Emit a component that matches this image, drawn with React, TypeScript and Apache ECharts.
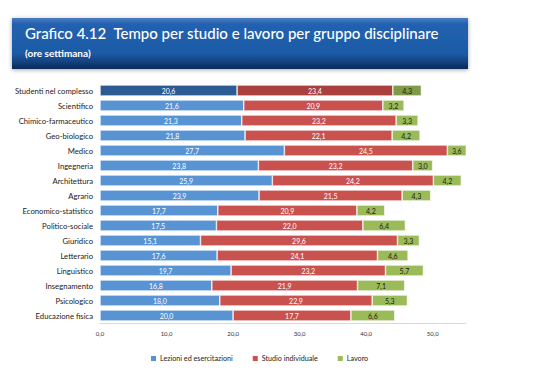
import React, { useEffect, useRef } from "react";
import * as echarts from "echarts";

const categories = [
  "Studenti nel complesso",
  "Scientifico",
  "Chimico-farmaceutico",
  "Geo-biologico",
  "Medico",
  "Ingegneria",
  "Architettura",
  "Agrario",
  "Economico-statistico",
  "Politico-sociale",
  "Giuridico",
  "Letterario",
  "Linguistico",
  "Insegnamento",
  "Psicologico",
  "Educazione fisica",
];
const lezioni = [20.6, 21.6, 21.3, 21.8, 27.7, 23.8, 25.9, 23.9, 17.7, 17.5, 15.1, 17.6, 19.7, 16.8, 18.0, 20.0];
const studio = [23.4, 20.9, 23.2, 22.1, 24.5, 23.2, 24.2, 21.5, 20.9, 22.0, 29.6, 24.1, 23.2, 21.9, 22.9, 17.7];
const lavoro = [4.3, 3.2, 3.3, 4.2, 3.6, 3.0, 4.2, 4.3, 4.2, 6.4, 3.3, 4.6, 5.7, 7.1, 5.3, 6.6];
const seriesNames = ["Lezioni ed esercitazioni", "Studio individuale", "Lavoro"];

const FONT = "Lato";
const colors = ["#5893d4", "#c9524f", "#9bbb59"];
const darkColors = ["#2c5b94", "#a9403d", "#7f9b4a"];
const labelColors = ["#ffffff", "#ffffff", "#1a1a1a"];

const fmt = (v: number) => v.toFixed(1).replace(".", ",");

export default function App() {
  const ref = useRef<HTMLDivElement>(null);
  useEffect(() => {
    const chart = echarts.init(ref.current!, null, { renderer: "svg" });
    const all = [lezioni, studio, lavoro];
    chart.setOption({
      animation: false,
      backgroundColor: "#ffffff",
      graphic: [
        {
          type: "rect",
          shape: { x: 12, y: 18, width: 456, height: 51 },
          style: {
            fill: new echarts.graphic.LinearGradient(0, 0, 0, 1, [
              { offset: 0, color: "#4a7cc0" },
              { offset: 0.12, color: "#2262b0" },
              { offset: 0.7, color: "#1d5aa6" },
              { offset: 1, color: "#0a2b5a" },
            ]),
            shadowBlur: 4,
            shadowColor: "rgba(0,0,0,0.35)",
            shadowOffsetY: 1,
          },
        },
        {
          type: "text",
          x: 25,
          y: 25,
          style: {
            text: "Grafico 4.12  Tempo per studio e lavoro per gruppo disciplinare",
            fill: "#ffffff",
            font: `500 15px ${FONT}`,
          },
        },
        {
          type: "text",
          x: 25,
          y: 48,
          style: {
            text: "(ore settimana)",
            fill: "#ffffff",
            font: `bold 10px ${FONT}`,
          },
        },
      ],
      legend: {
        top: 350,
        left: 146,
        data: seriesNames.map((n, i) => ({
          name: n,
          itemStyle: { color: colors[i], borderWidth: 0 },
        })),
        icon: "rect",
        itemWidth: 5,
        itemHeight: 5,
        itemGap: 20,
        textStyle: { fontFamily: FONT, fontSize: 7.2, color: "#222", padding: [0, 0, 0, -1] },
      },
      grid: { left: 100, right: 67, top: 83, bottom: 55, containLabel: false },
      xAxis: {
        type: "value",
        min: 0,
        max: 55,
        interval: 10,
        axisLine: { show: true, lineStyle: { color: "#d9d9d9" } },
        axisTick: { show: false },
        splitLine: { show: false },
        axisLabel: {
          showMaxLabel: false,
          formatter: (v: number) => (v > 50 ? "" : fmt(v)),
          fontFamily: FONT,
          fontSize: 6,
          color: "#333",
          margin: 7,
        },
      },
      yAxis: {
        type: "category",
        inverse: true,
        data: categories,
        axisLine: { show: false },
        axisTick: { show: false },
        axisLabel: { fontFamily: FONT, fontSize: 7.7, color: "#1a1a1a", margin: 7 },
      },
      series: seriesNames.map((name, si) => ({
        name,
        type: "bar",
        stack: "tot",
        barWidth: 11,
        itemStyle: { color: colors[si], borderColor: "#ffffff", borderWidth: 0.6 },
        label: {
          show: true,
          position: "inside",
          formatter: (p: any) => fmt(p.value),
          fontFamily: FONT,
          fontSize: 7,
          color: labelColors[si],
        },
        data: all[si].map((v, i) =>
          i === 0 ? { value: v, itemStyle: { color: darkColors[si] } } : v
        ),
      })),
    });
    return () => chart.dispose();
  }, []);
  return (
    <div
      ref={ref}
      style={{ position: "absolute", left: 0, top: 0, width: 533, height: 378 }}
    />
  );
}
